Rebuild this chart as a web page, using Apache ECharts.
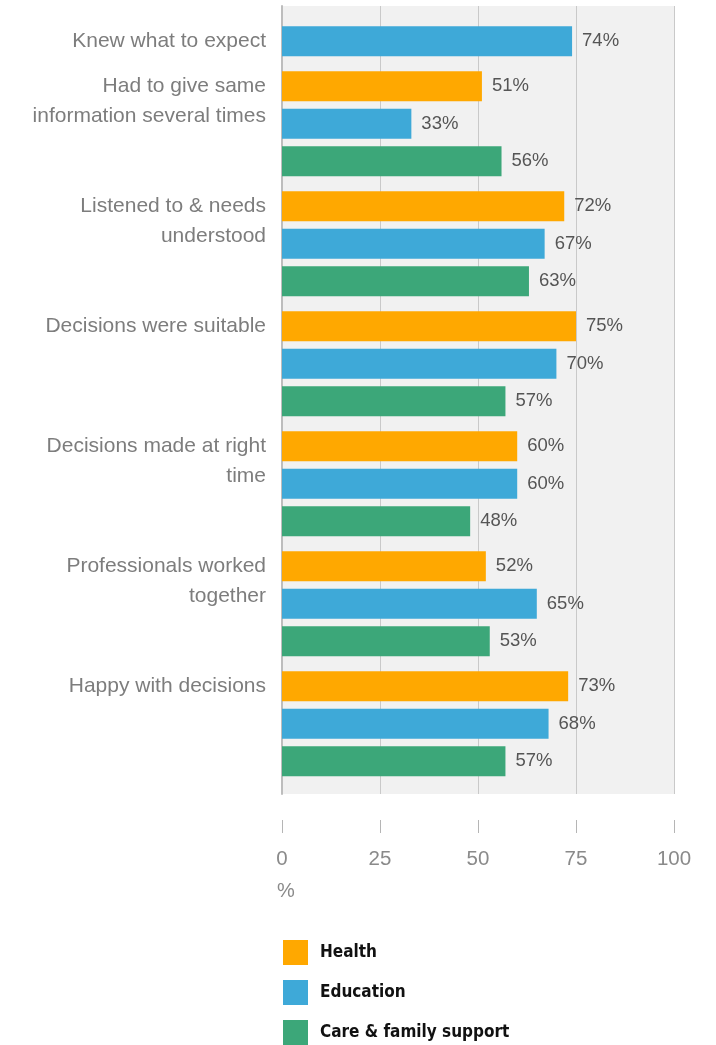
<!DOCTYPE html>
<html>
<head>
<meta charset="utf-8">
<script src="https://cdn.jsdelivr.net/npm/echarts@6/dist/echarts.min.js"></script>
<style>
  html, body { margin: 0; padding: 0; background: #ffffff; }
  #chart { width: 716px; height: 1045px; }
</style>
</head>
<body>
<div id="chart"></div>
<script>
// Survey questions (row groups) and the share agreeing, per service
const categories = [
  'Knew what to expect',
  'Had to give same\ninformation several times',
  'Listened to & needs\nunderstood',
  'Decisions were suitable',
  'Decisions made at right\ntime',
  'Professionals worked\ntogether',
  'Happy with decisions'
];
const seriesNames = ['Health', 'Education', 'Care & family support'];
const health    = [null, 51, 72, 75, 60, 52, 73];
const education = [74, 33, 67, 70, 60, 65, 68];
const care      = [null, 56, 63, 57, 48, 53, 57];
const xTicks = [0, 25, 50, 75, 100];

const seriesValues = [health, education, care];
const colors = ['#FFA800', '#3EA9D8', '#3CA779'];

// layout constants
const LEFT = 282, RIGHT = 42;
const PLOT_TOP = 6, PLOT_BOTTOM_Y = 794;
const SLOT = 37.5, GROUP_GAP = 7.5, FIRST_TOP = 22.5, BAR_W = 30;
const labelFont = 'Helvetica Neue, Liberation Sans, Arial, sans-serif';

const grids = [], xAxes = [], yAxes = [], series = [];

// Background grid: grey plot area, gridlines and the detached value axis
grids.push({ left: LEFT, right: RIGHT, top: PLOT_TOP, height: PLOT_BOTTOM_Y - PLOT_TOP,
  show: true, backgroundColor: '#f1f1f1', borderWidth: 0 });
xAxes.push({
  gridIndex: 0, type: 'value', min: xTicks[0], max: xTicks[xTicks.length - 1],
  interval: xTicks[1] - xTicks[0], offset: 26,
  axisLine: { show: false },
  axisTick: { show: true, length: 13, lineStyle: { color: '#b5b5b5', width: 1 } },
  axisLabel: { margin: 29, fontSize: 20.5, color: '#8a8a8a', fontFamily: labelFont },
  splitLine: { show: true, lineStyle: { color: '#c9c9c9', width: 1 } }
});
yAxes.push({
  gridIndex: 0, type: 'category', data: [''],
  axisLine: { show: true, lineStyle: { color: '#bdbdbd', width: 2 } },
  axisTick: { show: false }, axisLabel: { show: false }, splitLine: { show: false }
});

// One grid per question, holding only the services that were asked
let groupTop = FIRST_TOP;
categories.forEach((cat, g) => {
  const present = [];
  seriesValues.forEach((vals, s) => { if (vals[g] !== null) present.push(s); });
  const gi = grids.length;
  const h = present.length * SLOT;
  grids.push({ left: LEFT, right: RIGHT, top: groupTop, height: h, show: false });
  groupTop += h + GROUP_GAP;

  xAxes.push({ gridIndex: gi, type: 'value', min: xTicks[0], max: xTicks[xTicks.length - 1], show: false });
  const lineCount = cat.split('\n').length;
  yAxes.push({
    gridIndex: gi, type: 'category', inverse: true,
    data: present.map(s => seriesNames[s]),
    axisLine: { show: false }, axisTick: { show: false }, splitLine: { show: false },
    axisLabel: {
      show: true, margin: 16, fontSize: 21, lineHeight: 30, color: '#7d7d7d',
      fontFamily: labelFont, interval: 0, padding: [4, 0, 0, 0],
      // first line of the question sits level with the group's first bar
      formatter: (v, i) => i === 0 ? '\n'.repeat(lineCount - 1) + cat : ''
    }
  });

  present.forEach((s, idx) => {
    const data = present.map((_, j) => j === idx ? seriesValues[s][g] : '-');
    series.push({
      type: 'bar', name: seriesNames[s], xAxisIndex: gi, yAxisIndex: gi,
      data: data, barWidth: BAR_W, barGap: '-100%',
      itemStyle: { color: colors[s] },
      label: { show: true, position: 'right', distance: 10, formatter: '{c}%',
        fontSize: 18.5, color: '#555555', fontFamily: labelFont, padding: [2, 0, 0, 0] },
      emphasis: { disabled: true }
    });
  });
});

const chart = echarts.init(document.getElementById('chart'));
chart.setOption({
  animation: false,
  color: colors,
  title: { text: '%', left: 272, top: 876,
    textStyle: { fontSize: 20, fontWeight: 'normal', color: '#8a8a8a', fontFamily: labelFont } },
  legend: {
    data: seriesNames, orient: 'vertical', left: 283, top: 940, height: 110, padding: 0,
    itemWidth: 25, itemHeight: 25, itemGap: 15, icon: 'rect',
    selectedMode: false,
    textStyle: { fontSize: 17, fontWeight: 'bold', color: '#111111',
      fontFamily: 'Liberation Sans Narrow, DejaVu Sans Condensed, Arial Narrow, sans-serif',
      padding: [0, 0, 0, 7] }
  },
  grid: grids, xAxis: xAxes, yAxis: yAxes, series: series
});
</script>
</body>
</html>
